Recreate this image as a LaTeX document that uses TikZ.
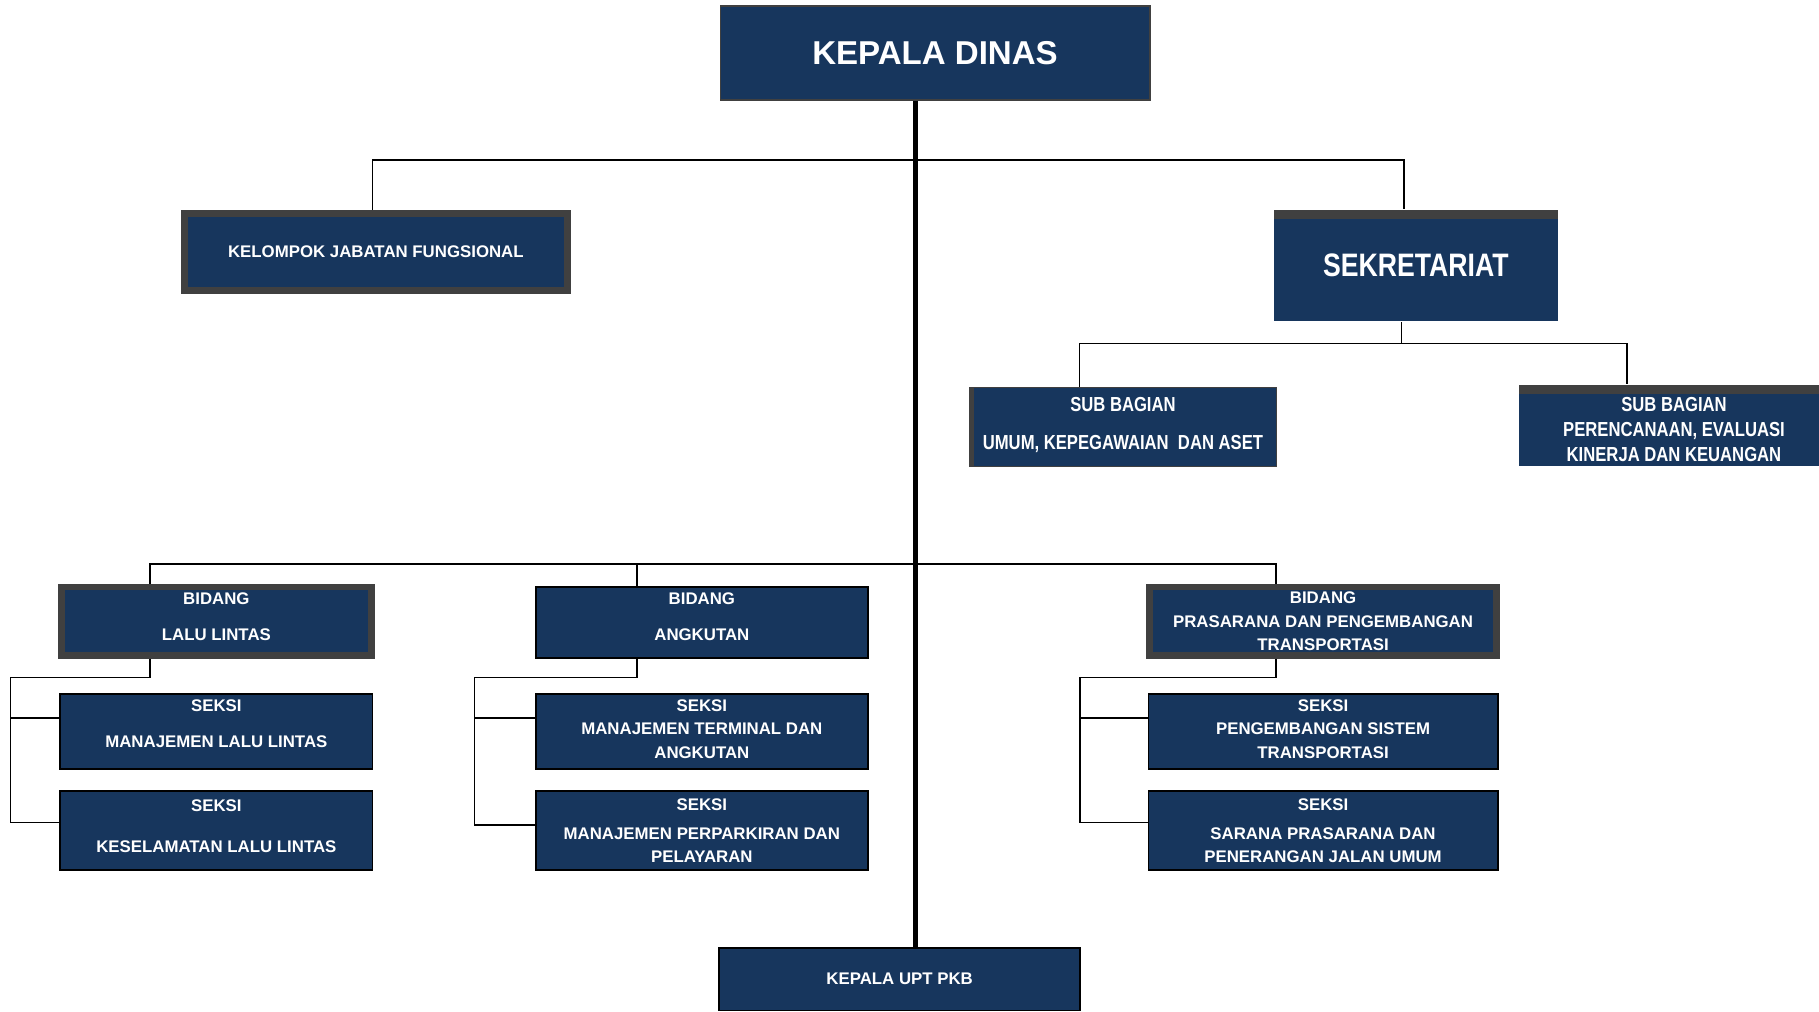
\documentclass[tikz,border=0pt]{standalone}
\usepackage{fontspec}
\setmainfont{Liberation Sans}
\newfontfamily\narrowfont[FakeStretch=0.82]{Liberation Sans}
\usepackage{xcolor}
\usepackage{tikz}
\definecolor{navy}{HTML}{17365D}
\definecolor{framegray}{HTML}{404040}
\newcommand{\lowpad}[1]{\rule[-#1]{0pt}{#1}}
\newcommand{\toppad}[1]{\rule{0pt}{#1}}

\begin{document}
\begin{tikzpicture}[x=1pt, y=-1pt,
	orgbox/.style={shape=rectangle, fill=navy, draw=black, line width=1.5pt, text=white, align=center, inner sep=0pt, font=\bfseries\fontsize{14.5}{20}\selectfont},
	graybox/.style={orgbox, draw=framegray, line width=6pt},
	bandbox/.style={orgbox, draw=none, path picture={\fill[framegray] (path picture bounding box.north west) rectangle ([yshift=-8pt]path picture bounding box.north east);}},
	subfont/.style={font=\narrowfont\bfseries\fontsize{17.5}{21}\selectfont},
	link/.style={draw=black, line width=1.5pt},
	trunk/.style={draw=black, line width=4.5pt}]
	\useasboundingbox (0,0) rectangle (1568,872);

	\node[orgbox, draw=framegray, minimum width=370pt, minimum height=81pt, font=\bfseries\fontsize{28.5}{32}\selectfont] (kadis) at (806,45.5) {KEPALA DINAS};
	\node[graybox, minimum width=330pt, minimum height=66pt] (kjf) at (324,217) {KELOMPOK JABATAN FUNGSIONAL};
	\node[bandbox, minimum width=245pt, minimum height=96pt, font=\narrowfont\bfseries\fontsize{28}{30}\selectfont] (sekre) at (1220.5,229) {SEKRETARIAT};

	\node[orgbox, subfont, draw=framegray, line width=1pt, minimum width=264pt, minimum height=68pt,
		path picture={\fill[framegray] (path picture bounding box.north west) rectangle ([xshift=4pt]path picture bounding box.south west);}] (sbumum) at (968,368) {SUB BAGIAN\\[12pt]UMUM, KEPEGAWAIAN\ \ DAN ASET\lowpad{6pt}};
	\node[bandbox, subfont, minimum width=268pt, minimum height=70pt] (sbren) at (1443,367) {\toppad{18pt}SUB BAGIAN\\[1pt]PERENCANAAN, EVALUASI\\KINERJA DAN KEUANGAN};

	\node[graybox, minimum width=267pt, minimum height=59pt] (bll) at (186.5,535.5) {BIDANG\\[11pt]LALU LINTAS\lowpad{8pt}};
	\node[orgbox, minimum width=286pt, minimum height=61pt] (bang) at (605,536.5) {BIDANG\\[11pt]ANGKUTAN\lowpad{10pt}};
	\node[graybox, minimum width=299pt, minimum height=59pt] (bpras) at (1140.5,535.5) {BIDANG\\PRASARANA DAN PENGEMBANGAN\\TRANSPORTASI};

	\node[orgbox, minimum width=269pt, minimum height=65pt] (s11) at (186.5,630.5) {SEKSI\\[11pt]MANAJEMEN LALU LINTAS\lowpad{14pt}};
	\node[orgbox, minimum width=269pt, minimum height=68pt] (s12) at (186.5,716) {SEKSI\\[15pt]KESELAMATAN LALU LINTAS\lowpad{8pt}};
	\node[orgbox, minimum width=286pt, minimum height=65pt] (s21) at (605,630.5) {SEKSI\\MANAJEMEN TERMINAL DAN\\ANGKUTAN\lowpad{4pt}};
	\node[orgbox, minimum width=286pt, minimum height=68pt] (s22) at (605,716) {SEKSI\\[5pt]MANAJEMEN PERPARKIRAN DAN\\PELAYARAN};
	\node[orgbox, minimum width=301pt, minimum height=65pt] (s31) at (1140.5,630.5) {SEKSI\\PENGEMBANGAN SISTEM\\TRANSPORTASI\lowpad{4pt}};
	\node[orgbox, minimum width=301pt, minimum height=68pt] (s32) at (1140.5,716) {SEKSI\\[5pt]SARANA PRASARANA DAN\\PENERANGAN JALAN UMUM};

	\node[orgbox, minimum width=311pt, minimum height=54pt] (upt) at (775.5,844) {KEPALA UPT PKB};

	\coordinate (j1) at (789,138);
	\coordinate (j2) at (789,486);
	\coordinate (j3) at (1208,296);
	\coordinate (t1) at (9,584);
	\coordinate (t2) at (409,584);
	\coordinate (t3) at (931,584);

	\draw[trunk] (kadis.south -| j1) -- (upt.north -| j1);
	\draw[link] ([xshift=-3pt]kjf.north) |- (j1) -| ([xshift=-10.5pt]sekre.north);
	\draw[link] ([xshift=-12.5pt]sekre.south) -- (j3);
	\draw[link] ([xshift=95pt]sbumum.north west) |- (j3) -| ([xshift=94pt]sbren.north west);
	\draw[link] ([xshift=-57.5pt]bll.north) |- (j2) -| ([xshift=-40.5pt]bpras.north);
	\draw[link] ([xshift=-56pt]bang.north) |- (j2);

	\draw[link] ([xshift=-57.5pt]bll.south) |- (t1) |- ([yshift=7pt]s12.west);
	\draw[link] ([yshift=11.5pt]s11.west) -| (t1);
	\draw[link] ([xshift=-56pt]bang.south) |- (t2) |- ([yshift=5pt]s22.west);
	\draw[link] ([yshift=11.5pt]s21.west) -| (t2);
	\draw[link] ([xshift=-40.5pt]bpras.south) |- (t3) |- ([yshift=7pt]s32.west);
	\draw[link] ([yshift=11.5pt]s31.west) -| (t3);
\end{tikzpicture}
\end{document}
